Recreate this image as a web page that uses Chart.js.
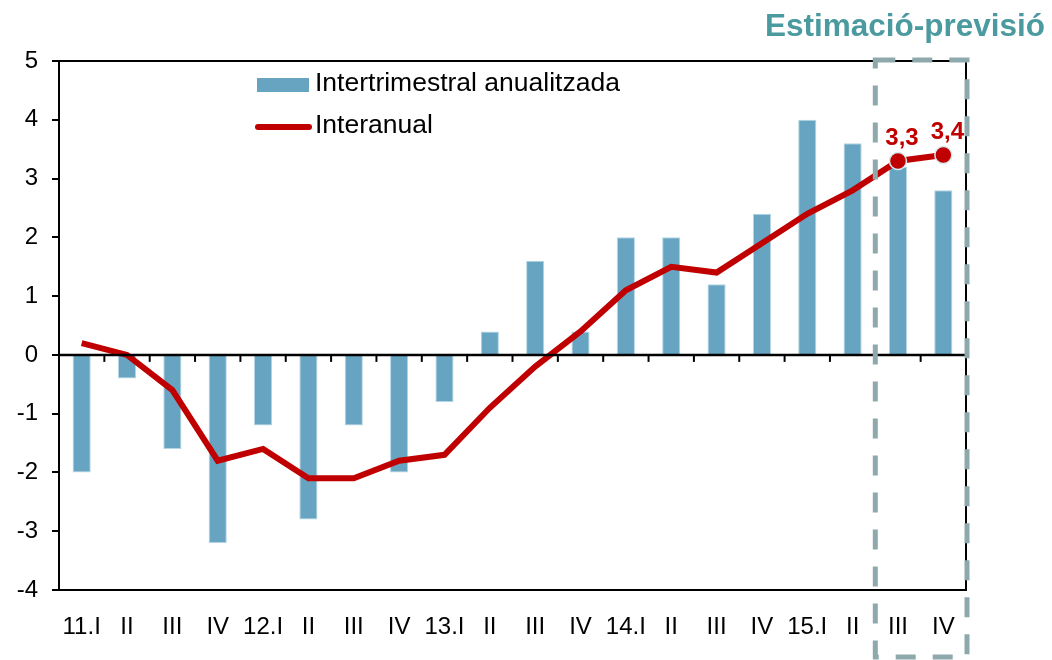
<!DOCTYPE html>
<html lang="ca">
<head>
    <meta charset="UTF-8">
    <title>Intertrimestral anualitzada i interanual</title>
    <script src="https://cdn.jsdelivr.net/npm/chart.js@4.4.1/dist/chart.umd.min.js"></script>
    <style>
        body {
            margin: 0;
            padding: 0;
            background: #ffffff;
            font-family: "Liberation Sans", Arial, sans-serif;
        }
        .chart-container {
            width: 1052px;
            height: 660px;
        }
    </style>
</head>
<body>
    <div class="chart-container">
        <canvas id="gdpChart" width="1052" height="660"></canvas>
    </div>

    <script>
        // Quarters 2011 - 2015
        const categories = ['11.I', 'II', 'III', 'IV', '12.I', 'II', 'III', 'IV', '13.I', 'II', 'III', 'IV',
                            '14.I', 'II', 'III', 'IV', '15.I', 'II', 'III', 'IV'];

        // Intertrimestral anualitzada (bars)
        const qoqAnnualized = [-2.0, -0.4, -1.6, -3.2, -1.2, -2.8, -1.2, -2.0, -0.8, 0.4, 1.6, 0.4,
                               2.0, 2.0, 1.2, 2.4, 4.0, 3.6, 3.2, 2.8];

        // Interanual (line)
        const yoy = [0.2, 0.0, -0.6, -1.8, -1.6, -2.1, -2.1, -1.8, -1.7, -0.9, -0.2, 0.4,
                     1.1, 1.5, 1.4, 1.9, 2.4, 2.8, 3.3, 3.4];

        const seriesNames = ['Intertrimestral anualitzada', 'Interanual'];
        const forecastStart = 18;   // first estimated quarter (15.III)
        const yTicks = { min: -4, max: 5, step: 1 };
        const forecastTitle = 'Estimació-previsió';

        const FONT = '"Liberation Sans", Arial, sans-serif';
        const BAR_COLOR = '#67a4c2';
        const LINE_COLOR = '#c00000';
        const BOX_COLOR = '#8ea9ab';
        const TITLE_COLOR = '#4b9a9f';

        const ctx = document.getElementById('gdpChart').getContext('2d');

        const decorations = {
            id: 'decorations',
            afterDraw(chart) {
                const c = chart.ctx;
                const area = chart.chartArea;
                const xs = chart.scales.x;
                const ys = chart.scales.y;
                const y0 = ys.getPixelForValue(0);

                c.save();
                // top and right frame
                c.strokeStyle = '#000';
                c.lineWidth = 2;
                c.beginPath();
                c.moveTo(area.left, area.top);
                c.lineTo(area.right, area.top);
                c.lineTo(area.right, area.bottom);
                c.stroke();

                // zero line with category ticks
                c.lineWidth = 2.5;
                c.beginPath();
                c.moveTo(area.left, y0);
                c.lineTo(area.right, y0);
                c.stroke();
                c.lineWidth = 2;
                for (let i = 1; i < categories.length; i++) {
                    const bx = (xs.getPixelForValue(i - 1) + xs.getPixelForValue(i)) / 2;
                    c.beginPath();
                    c.moveTo(bx, y0);
                    c.lineTo(bx, y0 + 7);
                    c.stroke();
                }

                // forecast box
                const xl = (xs.getPixelForValue(forecastStart - 1) + xs.getPixelForValue(forecastStart)) / 2;
                c.strokeStyle = BOX_COLOR;
                c.lineWidth = 5;
                c.setLineDash([20, 17]);
                c.strokeRect(xl, area.top - 1, area.right + 1 - xl, chart.height - 3 - (area.top - 1));
                c.setLineDash([]);

                // box title
                c.fillStyle = TITLE_COLOR;
                c.font = 'bold 31.5px ' + FONT;
                c.textAlign = 'right';
                c.textBaseline = 'alphabetic';
                c.fillText(forecastTitle, chart.width - 7, 36);

                // value labels on forecast points (line dataset is index 0)
                const meta = chart.getDatasetMeta(0);
                c.fillStyle = LINE_COLOR;
                c.font = 'bold 24px ' + FONT;
                c.textAlign = 'center';
                c.textBaseline = 'middle';
                for (let i = forecastStart; i < yoy.length; i++) {
                    const pt = meta.data[i];
                    c.fillText(yoy[i].toFixed(1).replace('.', ','), pt.x + 4, pt.y - 23);
                }

                // legend
                c.fillStyle = BAR_COLOR;
                c.fillRect(257, 78, 52, 14);
                c.strokeStyle = LINE_COLOR;
                c.lineWidth = 6;
                c.lineCap = 'round';
                c.beginPath();
                c.moveTo(258, 127);
                c.lineTo(309, 127);
                c.stroke();
                c.fillStyle = '#000';
                c.font = '26.5px ' + FONT;
                c.textAlign = 'left';
                c.fillText(seriesNames[0], 315, 84);
                c.fillText(seriesNames[1], 315, 126);
                c.restore();
            }
        };

        new Chart(ctx, {
            type: 'bar',
            data: {
                labels: categories,
                datasets: [
                    {
                        type: 'line',
                        label: seriesNames[1],
                        data: yoy,
                        order: 0,
                        borderColor: LINE_COLOR,
                        borderWidth: 6,
                        tension: 0,
                        pointRadius: c => c.dataIndex >= forecastStart ? 8.5 : 0,
                        pointBackgroundColor: LINE_COLOR,
                        pointBorderColor: '#d4eaef',
                        pointBorderWidth: 1.5
                    },
                    {
                        label: seriesNames[0],
                        data: qoqAnnualized,
                        order: 1,
                        backgroundColor: BAR_COLOR,
                        borderColor: '#b3d5e3',
                        borderWidth: 1,
                        barPercentage: 0.4,
                        categoryPercentage: 1.0
                    }
                ]
            },
            options: {
                responsive: false,
                animation: false,
                layout: {
                    padding: { top: 61, right: 86, left: 0, bottom: 0 }
                },
                plugins: {
                    legend: { display: false },
                    tooltip: { enabled: false }
                },
                scales: {
                    x: {
                        grid: { display: false },
                        border: { display: true, color: '#000', width: 2 },
                        ticks: {
                            color: '#000',
                            font: { family: FONT, size: 24 },
                            padding: 15,
                            maxRotation: 0,
                            autoSkip: false
                        },
                        afterFit(scale) { scale.height = 70; }
                    },
                    y: {
                        min: yTicks.min,
                        max: yTicks.max,
                        grid: {
                            drawOnChartArea: false,
                            drawTicks: true,
                            tickLength: 7,
                            color: '#000',
                            lineWidth: 2
                        },
                        border: { display: true, color: '#000', width: 2 },
                        ticks: {
                            stepSize: yTicks.step,
                            color: '#000',
                            font: { family: FONT, size: 24 },
                            padding: 14
                        },
                        afterFit(scale) { scale.width = 59; }
                    }
                }
            },
            plugins: [decorations]
        });
    </script>
</body>
</html>
